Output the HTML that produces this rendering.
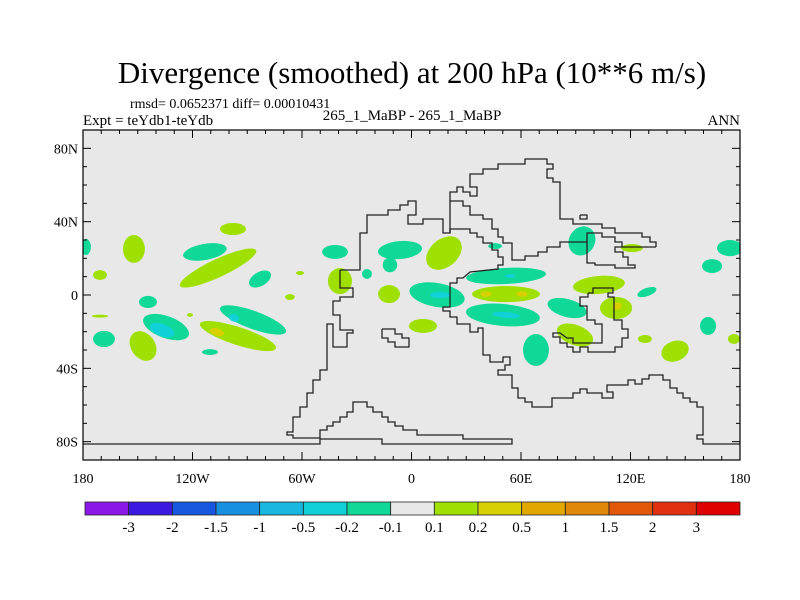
<!DOCTYPE html>
<html><head><meta charset="utf-8"><style>
body{margin:0;background:#fff;}
svg{display:block;font-family:"Liberation Serif",serif;}
</style></head><body>
<svg id="chart" width="800" height="600" xmlns="http://www.w3.org/2000/svg">
<rect width="800" height="600" fill="#fff"/>
<text x="412" y="83" font-size="31" text-anchor="middle">Divergence (smoothed) at 200 hPa (10**6 m/s)</text>
<text x="130" y="108" font-size="14">rmsd= 0.0652371 diff= 0.00010431</text>
<text x="83" y="125" font-size="15">Expt = teYdb1-teYdb</text>
<text x="412" y="120" font-size="15" text-anchor="middle">265_1_MaBP - 265_1_MaBP</text>
<text x="740" y="125" font-size="15" text-anchor="end">ANN</text>
<g id="plot"></g>
<g id="cbar"></g>
</svg>
<script>
// ---- data ----
const blobLon = [-178.4,-152.1,-170.7,-113.2,-106.0,-97.8,-83.0,-144.4,-134.5,-168.5,-147.1,-95.1,-86.8,-110.4,-66.6,-170.7,-121.4,-41.9,-6.3,-11.8,17.8,-39.2,-24.4,-12.3,14.0,51.8,51.8,50.1,6.3,68.2,89.6,93.4,120.8,102.7,112.1,129.0,85.2,45.8,-61.1,127.9,174.5,164.7,162.5,176.7,144.4,
 -136.7,-106.6,-97.3,15.6,54.0,40.8,60.5,51.8,112.6];
const blobLat = [26.2,25.1,10.9,23.5,14.7,36.0,8.7,-3.8,-17.5,-24.0,-27.8,-22.4,-13.6,-31.1,-1.1,-11.5,-10.9,23.5,24.5,16.4,22.9,7.6,11.5,0.5,0,10.4,0.5,-10.9,-16.9,-30.0,-21.8,29.5,25.6,5.5,-7.1,1.6,-7.1,26.7,12.0,-24.0,25.6,15.8,-16.9,-24.0,-30.6,
 -19.1,-20.2,-12.5,0,10.4,0.5,0.5,-10.9,-6.0];
const blobLonRad = [2.7,6.0,3.8,12.1,23.0,7.1,6.6,4.9,13.2,6.0,6.6,21.9,19.2,4.4,2.7,4.4,1.6,7.1,12.1,4,11,6.6,2.7,6,15.3,21.9,18.6,20.3,7.7,7.1,10.4,7.1,6,14.2,8.8,5.5,11,3.8,2.2,3.8,7.1,5.5,4.4,3.3,7.7,
 7.1,4,3,5.5,3,3,3,7.7,2.5];
const blobLatRad = [4.4,7.6,2.7,4.4,4.9,3.3,3.8,3.3,6.0,4.4,8.7,4.9,4.9,1.6,1.6,0.8,1,3.8,4.9,4,7.6,7.1,2.7,4.9,6.5,4.4,4.4,6,3.8,8.7,5.5,8.2,2.2,4.9,6,2.2,4.9,1.6,1.1,2.2,4.4,3.8,4.9,2.7,5.5,
 3.3,2,2,1.6,1,1.5,1.5,1.6,2];
const blobTilt = [0,0,0,-10,-25,0,-30,0,20,0,-35,18,20,0,0,0,0,0,-5,0,-40,0,0,0,10,-3,0,5,0,0,20,30,0,-5,0,-20,15,0,0,0,0,0,0,0,-20,
 20,18,20,0,0,0,0,5,0];
const blobValue = [-0.15,0.15,0.15,-0.15,0.15,0.15,-0.15,-0.15,-0.15,-0.15,0.15,0.15,-0.15,-0.15,0.15,0.15,0.15,-0.15,-0.15,-0.15,0.15,0.15,-0.15,0.15,-0.15,-0.15,0.15,-0.15,0.15,-0.15,0.15,-0.15,0.15,0.15,0.15,-0.15,-0.15,-0.15,0.15,0.15,-0.15,-0.15,-0.15,0.15,0.15,
 -0.3,0.3,-0.3,-0.3,-0.3,0.3,0.3,-0.3,0.3];
const levels = [-3,-2,-1.5,-1,-0.5,-0.2,-0.1,0.1,0.2,0.5,1,1.5,2,3];
const levelColors = ["#8c18e8","#3c18e0","#1858e0","#1890e0","#18b8e0","#10d0d8","#10d898","#e8e8e8","#a0e000","#d8d000","#e0a800","#e08808","#e05808","#e03010","#e00000"];
const latTicks = [80,40,0,-40,-80];
const latTickLabels = ["80N","40N","0","40S","80S"];
const lonTicks = [-180,-120,-60,0,60,120,180];
const lonTickLabels = ["180","120W","60W","0","60E","120E","180"];
// coastline geometry (map background, pixel space)
const coastLines = [
 [[340,270],[360,270],[360,233],[367,233],[367,215],[388,215],[388,210],[400,210],[400,205],[408,205],[408,201],[416,201],[416,215],[408,215],[408,224],[423,224],[423,219],[443,219],[443,233],[450,233],[450,229],[470,229],[470,233],[477,233],[477,237],[483,237],[483,243],[492,243],[492,250],[498,250],[498,257],[503,257],[503,265],[498,265],[498,269],[470,272],[463,278],[457,278],[457,283],[450,283],[450,307],[443,307],[443,311],[450,311],[450,317],[457,317],[457,324],[470,324],[470,332],[478,332],[478,328],[483,328],[483,355],[490,355],[490,362],[503,362],[503,357],[510,357],[510,365],[505,365],[505,370],[498,370],[498,375],[512,375],[512,388],[518,388],[518,398],[525,398],[525,402],[532,402],[532,407],[552,407],[552,398],[573,398],[573,393],[580,393],[580,389],[587,389],[587,393],[602,393],[602,398],[613,398],[613,392],[607,392],[607,385],[628,385],[628,380],[635,380],[635,384],[642,384],[642,379],[649,379],[649,375],[663,375],[663,380],[670,380],[670,388],[677,388],[677,393],[683,393],[683,398],[690,398],[690,402],[697,402],[697,407],[703,407],[703,435],[697,435],[697,439],[703,439],[703,444],[740,444]],
 [[340,270],[340,288],[353,288],[353,297],[340,297],[340,301],[333,301],[333,315],[340,315],[340,330],[353,330],[353,333],[347,333],[347,347],[333,347],[333,324],[327,324],[327,370],[320,370],[320,380],[313,380],[313,393],[307,393],[307,407],[300,407],[300,417],[293,417],[293,432],[287,432],[287,435],[293,435],[293,438],[298,438]],
 [[298,438],[320,438],[320,430],[327,430],[327,426],[333,426],[333,422],[340,422],[340,417],[347,417],[347,412],[353,412],[353,402],[367,402],[367,407],[373,407],[373,412],[382,412],[382,417],[388,417],[388,422],[395,422],[395,426],[403,426],[403,430],[417,430],[417,435],[463,435],[463,439],[512,439],[512,444],[382,444],[382,439],[320,439],[320,444],[83,444]],
 [[450,233],[450,201],[463,201],[463,206],[470,206],[470,215],[483,215],[483,219],[492,219],[492,229],[498,229],[498,237],[503,237],[503,243],[512,243],[512,260],[525,260],[525,256],[538,256],[538,252],[547,252],[547,247],[560,247],[560,242],[587,242],[587,263],[595,263],[595,265],[615,265],[615,268],[635,268],[635,265],[628,265],[628,257],[623,257],[623,252],[615,252],[615,247],[656,247]],
 [[450,201],[450,192],[457,192],[457,187],[463,187],[463,192],[470,192],[470,196],[477,196],[477,187],[470,187],[470,174],[483,174],[483,169],[498,169],[498,164],[525,164],[525,159],[547,159],[547,164],[553,164],[553,169],[547,169],[547,178],[553,178],[553,182],[560,182],[560,219],[573,219],[573,224],[602,224],[602,228],[615,228],[615,233],[642,233],[642,237],[650,237],[650,242],[656,242],[656,247]],
 [[587,242],[587,233],[602,233],[602,237],[615,237],[615,242],[622,242],[622,247]],
 [[580,215],[587,215],[587,219],[580,219],[580,215]],
 [[382,329],[395,329],[395,334],[402,334],[402,338],[409,338],[409,347],[395,347],[395,342],[388,342],[388,338],[382,338],[382,329]],
 [[588,293],[593,293],[593,288],[613,288],[613,293],[608,293],[608,297],[614,297],[614,320],[622,320],[622,329],[628,329],[628,338],[622,338],[622,347],[615,347],[615,352],[588,352],[588,347],[580,347],[580,352],[573,352],[573,347],[567,347],[567,343],[560,343],[560,337],[553,337],[553,333],[560,333],[567,338],[573,338],[573,343],[588,343],[602,343],[602,324],[595,324],[595,320],[587,320],[587,306],[580,306],[580,297],[588,297],[588,293]]
];
// ---- axes ----
const X0=83,X1=740,Y0=130,Y1=460;
const xOf = lon => X0 + (lon+180)/360*(X1-X0);
const yOf = lat => Y0 + (90-lat)/180*(Y1-Y0);
const NS="http://www.w3.org/2000/svg";
function mk(tag, attrs, parent){const e=document.createElementNS(NS,tag);for(const k in attrs)e.setAttribute(k,attrs[k]);parent.appendChild(e);return e;}
function colorFor(v){let i=0;while(i<levels.length&&v>levels[i])i++;return levelColors[i];}
const plot=document.getElementById('plot');
const bg=mk('rect',{x:X0,y:Y0,width:X1-X0,height:Y1-Y0,fill:'#e8e8e8'},plot);


const clip=mk('clipPath',{id:'pc'},plot);mk('rect',{x:X0,y:Y0,width:X1-X0,height:Y1-Y0},clip);
const blobs=mk('g',{'clip-path':'url(#pc)'},plot);
for(let i=0;i<blobLon.length;i++){
  const cx=xOf(blobLon[i]), cy=yOf(blobLat[i]);
  const rx=xOf(blobLonRad[i])-xOf(0), ry=yOf(0)-yOf(blobLatRad[i]);
  const el=mk('ellipse',{cx:cx,cy:cy,rx:rx,ry:ry,fill:colorFor(blobValue[i]),transform:`rotate(${blobTilt[i]} ${cx} ${cy})`},blobs);
  
  
}
const coast=mk('g',{fill:'none',stroke:'#222',"stroke-width":1.3},plot);


coastLines.forEach(pts=>mk('polyline',{points:pts.map(p=>p.join(',')).join(' ')},coast));
const frame=mk('rect',{x:X0,y:Y0,width:X1-X0,height:Y1-Y0,fill:'none',stroke:'#000',"stroke-width":1.2},plot);


const ticks=mk('g',{stroke:'#000',"stroke-width":1},plot);
for(let lat=-90;lat<=90;lat+=10){const y=yOf(lat);const L=(lat%40===0)?8:4;
  mk('line',{x1:X0,y1:y,x2:X0+L,y2:y},ticks);mk('line',{x1:X1,y1:y,x2:X1-L,y2:y},ticks);}
for(let lon=-180;lon<=180;lon+=10){const x=xOf(lon);const L=(lon%60===0)?8:4;
  mk('line',{x1:x,y1:Y1,x2:x,y2:Y1-L},ticks);mk('line',{x1:x,y1:Y0,x2:x,y2:Y0+L},ticks);}
latTicks.forEach((lat,i)=>{const t=mk('text',{x:X0-5,y:yOf(lat)+5,"font-size":14,"text-anchor":"end"},plot);t.textContent=latTickLabels[i];
  
  });
lonTicks.forEach((lon,i)=>{const t=mk('text',{x:xOf(lon),y:Y1+23,"font-size":14,"text-anchor":"middle"},plot);t.textContent=lonTickLabels[i];
  
  });
// ---- colorbar ----
const cb=document.getElementById('cbar');
const CB0=85,CB1=740,CBY=502,CBH=13,bw=(CB1-CB0)/levelColors.length;
levelColors.forEach((c,i)=>{const r=mk('rect',{x:CB0+i*bw,y:CBY,width:bw,height:CBH,fill:c,stroke:'#222',"stroke-width":0.8},cb);
  
  });
levels.forEach((v,i)=>{const t=mk('text',{x:CB0+(i+1)*bw,y:CBY+CBH+17,"font-size":15,"text-anchor":"middle"},cb);t.textContent=String(v);
  
  });
</script>
</body></html>
